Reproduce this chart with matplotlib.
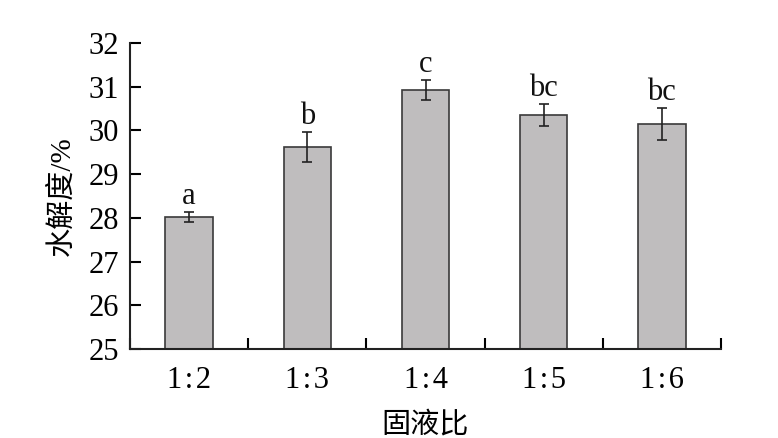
import matplotlib
matplotlib.use("Agg")
import matplotlib.pyplot as plt
from matplotlib.ticker import FixedLocator

categories = ["1\u200a:\u200a2", "1\u200a:\u200a3", "1\u200a:\u200a4", "1\u200a:\u200a5", "1\u200a:\u200a6"]
values = [28.02, 29.62, 30.93, 30.35, 30.14]
errors = [0.12, 0.35, 0.23, 0.26, 0.37]
letters = ["a", "b", "c", "bc", "bc"]
yticks = [25, 26, 27, 28, 29, 30, 31, 32]

fam = ["Liberation Serif", "Noto Sans CJK SC", "DejaVu Sans"]
plt.rcParams["font.family"] = fam

fig = plt.figure(figsize=(7.78, 4.38), dpi=100)
ax = fig.add_axes([130/778, 1-349/438, (721-130)/778, (349-43)/438])

x = list(range(len(categories)))
ax.bar(x, [v - 25 for v in values], bottom=25, width=0.4, color="#bfbdbe",
       edgecolor="#3a3a3a", linewidth=1.2, zorder=2)
ax.errorbar(x, values, yerr=errors, fmt="none", ecolor="#222222",
            elinewidth=1.2, capsize=3.8, capthick=1.2, zorder=3)
for xi, v, e, t in zip(x, values, errors, letters):
    ax.text(xi, v + e + 0.02, t, ha="center", va="bottom", fontsize=22,
            family=fam, color="#111111")

ax.set_xlim(-0.5, 4.5)
ax.set_ylim(25, 32)
ax.set_yticks(yticks)
ax.set_yticklabels([str(t) for t in yticks], fontsize=22)
ax.set_xticks(x)
ax.set_xticklabels(categories, fontsize=22)
ax.xaxis.set_minor_locator(FixedLocator([i - 0.5 for i in range(len(categories) + 1)]))
ax.tick_params(axis="x", which="major", length=0, pad=12)
ax.tick_params(axis="x", which="minor", direction="in", length=8, width=1.5)
ax.tick_params(axis="y", direction="in", length=8, width=1.5, pad=8)

for s in ["top", "right"]:
    ax.spines[s].set_visible(False)
for s in ["left", "bottom"]:
    ax.spines[s].set_linewidth(1.5)
    ax.spines[s].set_color("#222222")

ax.set_ylabel("水解度/%", fontsize=21, labelpad=9)
ax.set_xlabel("固液比", fontsize=21, labelpad=12)

fig.savefig("out.png", dpi=100)
